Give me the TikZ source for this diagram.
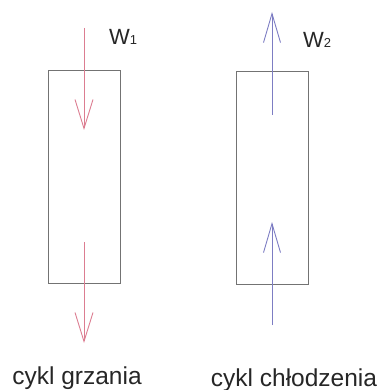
\documentclass[tikz,border=0pt]{standalone}
\usepackage{fontspec}
\setmainfont{Liberation Sans}
\usetikzlibrary{arrows.meta}
\begin{document}
\begin{tikzpicture}[x=1pt,y=-1pt,
  box/.style={draw=black!55,line width=0.9pt,minimum width=72pt,minimum height=213pt,inner sep=0pt,anchor=north west},
  heatarrow/.style={draw={rgb,255:red,220;green,125;blue,145},line width=0.9pt,-{Straight Barb[length=29pt,width=18pt,line width=0.9pt]}},
  coolarrow/.style={draw={rgb,255:red,125;green,125;blue,195},line width=0.9pt,-{Straight Barb[length=29pt,width=17pt,line width=0.9pt]}},
  lab/.style={font=\fontsize{24.5}{28}\selectfont,inner sep=0pt,text=black!85},
  wlab/.style={font=\fontsize{22}{26}\selectfont,inner sep=0pt,text=black!85,anchor=west}]
\useasboundingbox (0,0) rectangle (381,390);
\node[box] (b1) at (48,70) {};
\node[box] (b2) at (236,71) {};
% heating arrows
\coordinate (h1s) at (84,28);
\coordinate (h1e) at (84,130);
\coordinate (h2s) at (84,242);
\coordinate (h2e) at (84,343);
\draw[heatarrow] (h1s) -- (h1e);
\draw[heatarrow] (h2s) -- (h2e);
% cooling arrows
\coordinate (c1s) at (272,115);
\coordinate (c1e) at (272,12);
\coordinate (c2s) at (272,325);
\coordinate (c2e) at (272,222);
\draw[coolarrow] (c1s) -- (c1e);
\draw[coolarrow] (c2s) -- (c2e);
\node[wlab] (w1) at (109,37) {W\raisebox{-0.5pt}{\fontsize{13}{14}\selectfont 1}};
\node[wlab] (w2) at (303,40) {W\raisebox{-0.5pt}{\fontsize{13}{14}\selectfont 2}};
\node[lab] (l1) at (77,378) {cykl grzania};
\node[lab] (l2) at (294,380) {cykl chłodzenia};
\end{tikzpicture}
\end{document}
